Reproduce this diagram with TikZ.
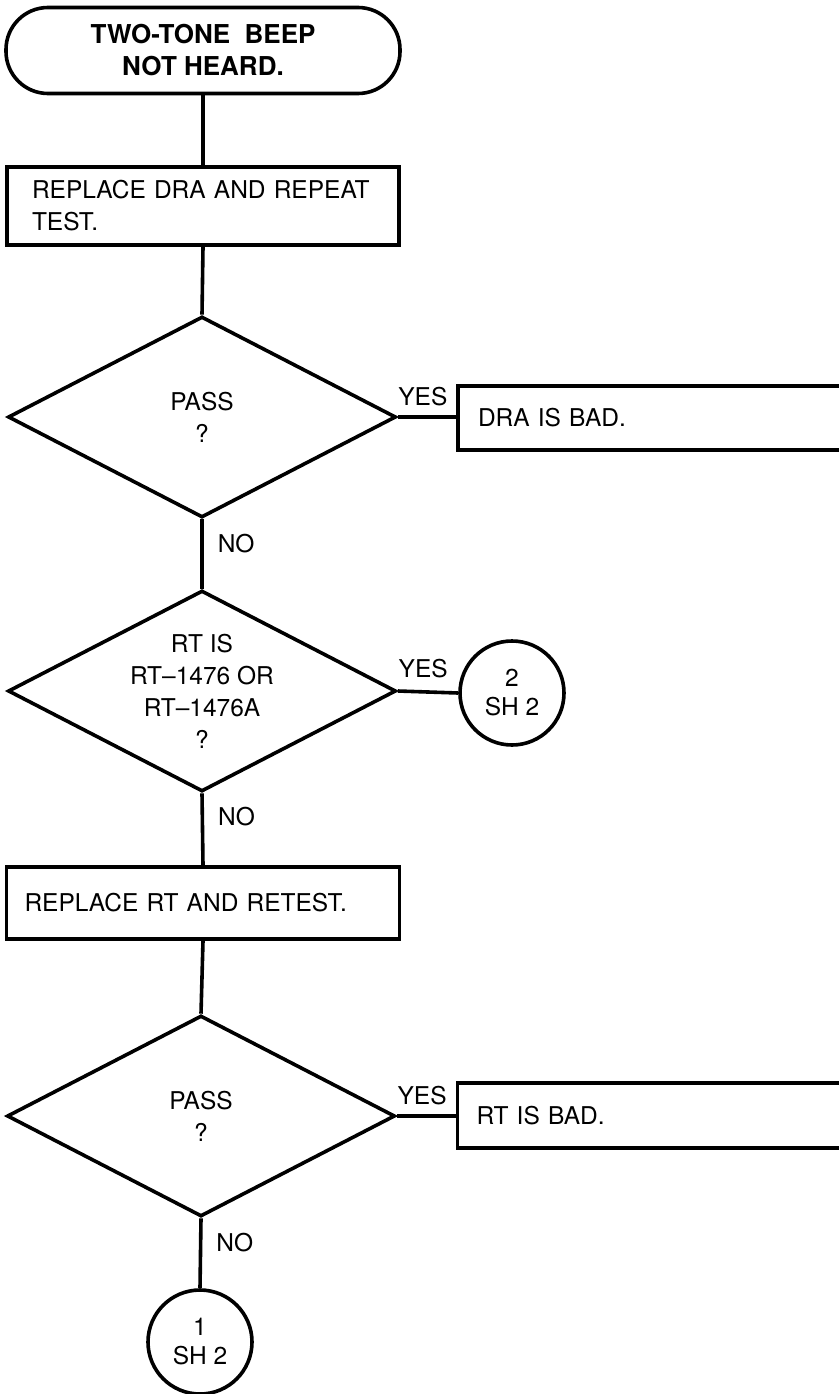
\documentclass[tikz,border=0pt]{standalone}
\usepackage{fontspec}
\setmainfont{TeX Gyre Heros}
\usetikzlibrary{shapes.geometric}
\begin{document}
\begin{tikzpicture}[x=1pt,y=-1pt,line width=3.6pt,
  every node/.style={font=\fontsize{24.5}{32}\selectfont, inner sep=0pt},
  term/.style={draw, rectangle, rounded corners=42pt, minimum width=394pt, minimum height=86pt,
    align=center, font=\fontsize{26}{32}\selectfont\bfseries},
  procbox/.style={draw, rectangle, align=left, inner ysep=0pt},
  decision/.style={draw, diamond, aspect=1.93, minimum width=388pt, minimum height=201pt, align=center},
  connector/.style={draw, circle, minimum size=104pt, align=center, font=\fontsize{24.5}{29}\selectfont},
  yeslbl/.style={above, yshift=9pt},
  nolbl/.style={right, xshift=14pt}
]
\useasboundingbox (0,0) rectangle (838,1394);

\node[term] (start) at (203,50.5) {TWO-TONE\ \ BEEP\\NOT HEARD.};

\node[procbox, text width=342pt, inner xsep=25pt, minimum height=78pt] (box1) at (203,206)
  {REPLACE DRA AND REPEAT\\TEST.};

\node[decision] (d1) at (202,417) {PASS\\?};

\node[procbox, text width=362pt, inner xsep=20pt, minimum height=64pt] (box2) at (659,418)
  {DRA IS BAD.};

\node[decision] (d2) at (202,691) {RT IS\\RT--1476 OR\\RT--1476A\\?};

\node[connector] (c2) at (512,693) {2\\SH 2};

\node[procbox, text width=357pt, inner xsep=18pt, minimum height=72pt] (box3) at (203,903)
  {REPLACE RT AND RETEST.};

\node[decision] (d3) at (201,1116) {PASS\\?};

\node[procbox, text width=364pt, inner xsep=19pt, minimum height=65pt] (box4) at (658.5,1115.5)
  {RT IS BAD.};

\node[connector] (c1) at (200,1342) {1\\SH 2};

\draw (start.south) -- (box1.north);
\draw (box1.south) -- (d1.north);
\draw (d1.east) -- node[yeslbl, pos=0.43] (y1) {YES} (d1.east -| box2.west);
\draw (d1.south) -- node[nolbl, pos=0.35] (n1) {NO} (d2.north);
\draw (d2.east) -- node[yeslbl, pos=0.42, yshift=3pt] (y2) {YES} (c2.west);
\draw (d2.south) -- node[nolbl, pos=0.33] (n2) {NO} (box3.north);
\draw (box3.south) -- (d3.north);
\draw (d3.east) -- node[yeslbl, pos=0.43] (y3) {YES} (d3.east -| box4.west);
\draw (d3.south) -- node[nolbl, pos=0.35] (n3) {NO} (c1.north);
\end{tikzpicture}
\end{document}
